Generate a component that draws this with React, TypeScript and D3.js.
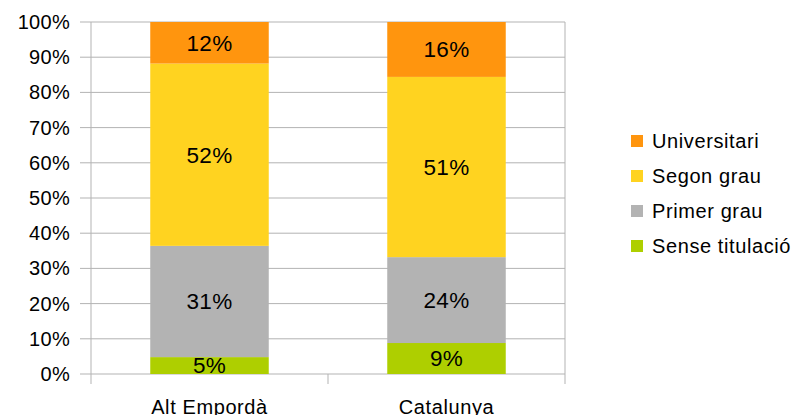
import React from "react";
import * as d3 from "d3";

const categories = ["Alt Empordà", "Catalunya"];
const seriesNames = ["Sense titulació", "Primer grau", "Segon grau", "Universitari"];
const seriesColors = ["#aecf00", "#b3b3b3", "#ffd320", "#ff950e"];
const senseTitulacio = [4.8, 8.8];
const primerGrau = [31.6, 24.4];
const segonGrau = [51.8, 51.2];
const universitari = [11.8, 15.6];
const labelSense = ["5%", "9%"];
const labelPrimer = ["31%", "24%"];
const labelSegon = ["52%", "51%"];
const labelUniv = ["12%", "16%"];
const yTicks = [0, 10, 20, 30, 40, 50, 60, 70, 80, 90, 100];

const W = 794;
const H = 415;
const left = 91;
const right = 565;
const top = 22;
const bottom = 374;
const font = "'Liberation Sans', Arial, sans-serif";

export default function App() {
  const x = d3.scaleBand<string>().domain(categories).range([left, right]).paddingInner(0.5).paddingOuter(0.25);
  const xOuter = d3.scaleBand<string>().domain(categories).range([left, right]);
  const y = d3.scaleLinear().domain([0, 100]).range([bottom, top]);

  const rows = categories.map((c, i) => ({
    cat: c,
    s0: senseTitulacio[i],
    s1: primerGrau[i],
    s2: segonGrau[i],
    s3: universitari[i],
  }));
  const stack = d3.stack<any>().keys(["s0", "s1", "s2", "s3"]);
  const stacked = stack(rows);
  const labels = [labelSense, labelPrimer, labelSegon, labelUniv];

  const legendOrder = [3, 2, 1, 0];
  const legendY = d3.scalePoint<number>().domain(legendOrder).range([141, 246]);

  const midTicks = categories.slice(0, -1).map((c) => (xOuter(c) as number) + xOuter.bandwidth());

  return (
    <svg width={W} height={H} style={{ position: "absolute", left: 0, top: 0 }} fontFamily={font}>
      <rect width={W} height={H} fill="#fff" />
      {yTicks.map((t) => (
        <g key={t}>
          <line x1={80} x2={right} y1={y(t)} y2={y(t)} stroke="#b3b3b3" strokeWidth={1} />
          <text x={70} y={y(t)} dy="0.35em" textAnchor="end" fontSize={20} letterSpacing={0.3} fill="#000">
            {t}%
          </text>
        </g>
      ))}
      <line x1={right} x2={right} y1={top} y2={bottom + 10} stroke="#b3b3b3" />
      <line x1={left} x2={left} y1={top} y2={bottom + 10} stroke="#b3b3b3" />
      {midTicks.map((tx, i) => (
        <line key={"m" + i} x1={tx} x2={tx} y1={bottom} y2={bottom + 10} stroke="#b3b3b3" />
      ))}
      {stacked.map((layer, si) => (
        <g key={si}>
          {layer.map((d, ci) => (
            <rect key={ci} x={x(categories[ci])} width={x.bandwidth()} y={y(d[1])} height={y(d[0]) - y(d[1])} fill={seriesColors[si]} />
          ))}
        </g>
      ))}
      {stacked.map((layer, si) => (
        <g key={"l" + si}>
          {layer.map((d, ci) => (
            <text key={ci} x={(x(categories[ci]) as number) + x.bandwidth() / 2} y={(y(d[0]) + y(d[1])) / 2} dy="0.35em"
              textAnchor="middle" fontSize={22.5} letterSpacing={0.3} fill="#000">
              {labels[si][ci]}
            </text>
          ))}
        </g>
      ))}
      {categories.map((c) => (
        <text key={c} x={(xOuter(c) as number) + xOuter.bandwidth() / 2} y={414} textAnchor="middle" fontSize={20} letterSpacing={0.6} fill="#000">
          {c}
        </text>
      ))}
      {legendOrder.map((si) => (
        <g key={si}>
          <rect x={631} y={(legendY(si) as number) - 6} width={12} height={12} fill={seriesColors[si]} />
          <text x={652} y={legendY(si) as number} dy="0.35em" fontSize={20} letterSpacing={0.6} fill="#000">
            {seriesNames[si]}
          </text>
        </g>
      ))}
    </svg>
  );
}
